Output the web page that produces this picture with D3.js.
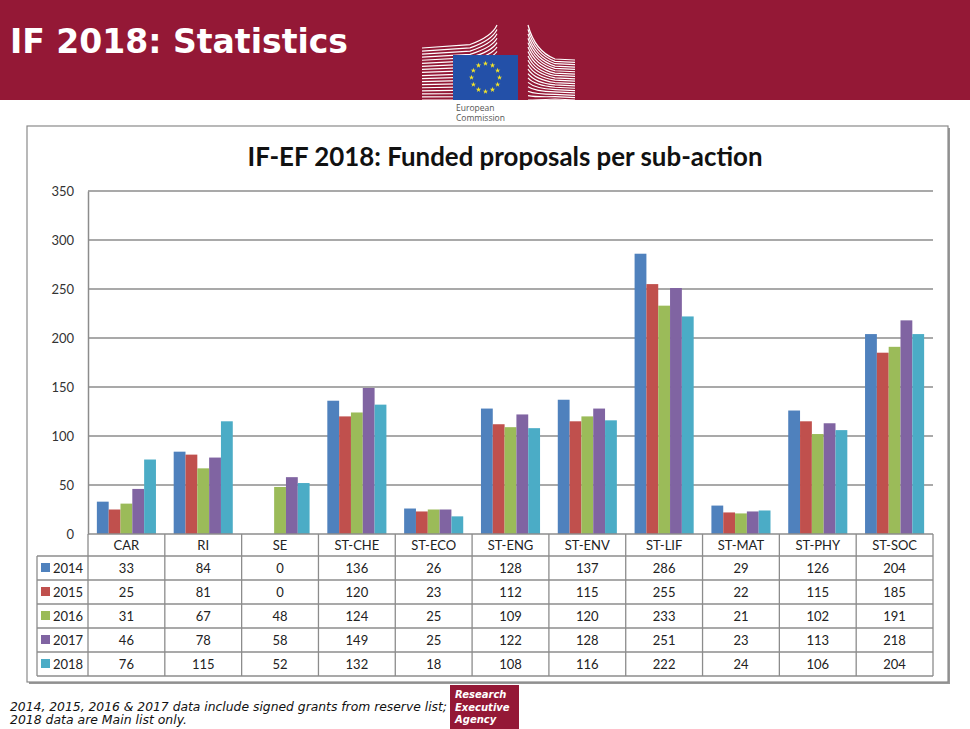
<!DOCTYPE html>
<html><head><meta charset="utf-8">
<script src="https://cdn.jsdelivr.net/npm/d3@7"></script>
<style>html,body{margin:0;padding:0;background:#fff;overflow:hidden}</style>
</head><body>
<svg id="c" width="970" height="729"></svg>
<script>
const categories = ["CAR","RI","SE","ST-CHE","ST-ECO","ST-ENG","ST-ENV","ST-LIF","ST-MAT","ST-PHY","ST-SOC"];
const years = ["2014","2015","2016","2017","2018"];
const v2014 = [33,84,0,136,26,128,137,286,29,126,204];
const v2015 = [25,81,0,120,23,112,115,255,22,115,185];
const v2016 = [31,67,48,124,25,109,120,233,21,102,191];
const v2017 = [46,78,58,149,25,122,128,251,23,113,218];
const v2018 = [76,115,52,132,18,108,116,222,24,106,204];
const yTicks = [0,50,100,150,200,250,300,350];
const colors = ["#4F81BD","#C0504D","#9BBB59","#8064A2","#4BACC6"];
const series = [v2014,v2015,v2016,v2017,v2018];

(function(){
const svg = d3.select("#c");
const red = "#941836";

// header band
svg.append("rect").attr("x",0).attr("y",0).attr("width",970).attr("height",100).attr("fill",red);
svg.append("text").attr("x",10).attr("y",53).attr("fill","#fff")
  .attr("font-family","DejaVu Sans").attr("font-weight","bold").attr("font-size",33)
  .attr("textLength",338).attr("lengthAdjust","spacingAndGlyphs")
  .text("IF 2018: Statistics");

// EC logo
const logo = svg.append("g");
for (let i=0;i<18;i++){
  const t=i/17;
  const yl=48+t*52, yr=25+t*75;
  logo.append("path").attr("d",`M422,${yl} L${470},${yl+(yr-yl)*0.15} Q${492},${yl+(yr-yl)*0.5} 497,${yr}`)
    .attr("fill","none").attr("stroke","#fff").attr("stroke-width",1.2);
  const yl2=25+t*75, yr2=60+t*40;
  logo.append("path").attr("d",`M528,${yl2} Q${535},${yl2+(yr2-yl2)*0.75} ${555},${yr2-1} L575,${yr2}`)
    .attr("fill","none").attr("stroke","#fff").attr("stroke-width",1.2);
}
logo.append("rect").attr("x",453).attr("y",55).attr("width",65).attr("height",45).attr("fill","#2350a8");
const star = d3.symbol().type(d3.symbolStar).size(9);
for (let k=0;k<12;k++){
  const a=k*Math.PI/6;
  logo.append("path").attr("d",star()).attr("fill","#f5e628")
    .attr("transform",`translate(${485.5+14*Math.sin(a)},${77.5-14*Math.cos(a)})`);
}
logo.append("text").attr("x",456).attr("y",111).attr("font-family","Open Sans").attr("font-size",8.5).attr("fill","#555").text("European");
logo.append("text").attr("x",456).attr("y",121).attr("font-family","Open Sans").attr("font-size",8.5).attr("fill","#555").text("Commission");

// chart box
svg.append("rect").attr("x",29).attr("y",128).attr("width",921).attr("height",556).attr("fill","#999");
svg.append("rect").attr("x",27).attr("y",126).attr("width",921).attr("height",556).attr("fill","#fff").attr("stroke","#8a8a8a").attr("stroke-width",1.2);

svg.append("text").attr("x",505).attr("y",166).attr("text-anchor","middle")
  .attr("font-family","Lato").attr("font-weight","bold").attr("font-size",26).attr("fill","#111")
  .attr("textLength",515).attr("lengthAdjust","spacingAndGlyphs")
  .text("IF-EF 2018: Funded proposals per sub-action");

// scales
const pL=88, pR=933, pT=191, pB=534;
const x0 = d3.scaleBand().domain(categories).range([pL,pR]).padding(0);
const x1 = d3.scaleBand().domain(years).range([0,x0.bandwidth()]).paddingInner(0).paddingOuter(0.75);
const y = d3.scaleLinear().domain([0,350]).range([pB,pT]);

// gridlines
svg.append("g").selectAll("line").data(yTicks.filter(d=>d>0)).join("line")
  .attr("x1",pL).attr("x2",pR).attr("y1",d=>y(d)).attr("y2",d=>y(d))
  .attr("stroke","#8c8c8c").attr("stroke-width",1.5);

// y axis
const yAxis = svg.append("g").attr("transform",`translate(${pL},0)`)
  .call(d3.axisLeft(y).tickValues(yTicks).tickSize(0).tickPadding(14));
yAxis.select(".domain").attr("stroke","#8c8c8c").attr("stroke-width",1.5);
yAxis.selectAll("text").attr("font-family","Lato").attr("font-size",13).attr("fill","#333");

// bars
const gs = svg.append("g").selectAll("g").data(categories).join("g")
  .attr("transform",d=>`translate(${x0(d)},0)`);
gs.selectAll("rect").data((c,ci)=>years.map((yr,si)=>({yr,si,v:series[si][ci]}))).join("rect")
  .attr("x",d=>x1(d.yr)).attr("width",x1.bandwidth())
  .attr("y",d=>y(d.v)).attr("height",d=>y(0)-y(d.v))
  .attr("fill",d=>colors[d.si]);

// table
const rowTop=534, hdrH=22, rowH=24, legL=37;
const tbl = svg.append("g");
const gridC="#8c8c8c";
tbl.append("line").attr("x1",pL).attr("x2",pR).attr("y1",rowTop).attr("y2",rowTop).attr("stroke",gridC).attr("stroke-width",1.5);
for (let r=0;r<=years.length;r++){
  const yy=rowTop+hdrH+r*rowH;
  tbl.append("line").attr("x1",legL).attr("x2",pR).attr("y1",yy).attr("y2",yy).attr("stroke",gridC).attr("stroke-width",1.3);
}
const tblBottom=rowTop+hdrH+years.length*rowH;
categories.forEach(c=>{
  tbl.append("line").attr("x1",x0(c)).attr("x2",x0(c)).attr("y1",rowTop).attr("y2",tblBottom).attr("stroke",gridC).attr("stroke-width",1.3);
});
tbl.append("line").attr("x1",pR).attr("x2",pR).attr("y1",rowTop).attr("y2",tblBottom).attr("stroke",gridC).attr("stroke-width",1.3);
tbl.append("line").attr("x1",legL).attr("x2",legL).attr("y1",rowTop+hdrH).attr("y2",tblBottom).attr("stroke",gridC).attr("stroke-width",1.3);
categories.forEach(c=>{
  tbl.append("text").attr("x",x0(c)+x0.bandwidth()/2).attr("y",rowTop+hdrH/2+5).attr("text-anchor","middle")
    .attr("font-family","Lato").attr("font-size",13).attr("fill","#222").text(c);
});
years.forEach((yr,si)=>{
  const cy=rowTop+hdrH+si*rowH+rowH/2;
  tbl.append("rect").attr("x",41).attr("y",cy-5).attr("width",9).attr("height",9).attr("fill",colors[si]);
  tbl.append("text").attr("x",53).attr("y",cy+5).attr("font-family","Lato").attr("font-size",13).attr("fill","#222").text(yr);
  categories.forEach((c,ci)=>{
    tbl.append("text").attr("x",x0(c)+x0.bandwidth()/2).attr("y",cy+5).attr("text-anchor","middle")
      .attr("font-family","Lato").attr("font-size",13).attr("fill","#222").text(series[si][ci]);
  });
});

// footer
svg.append("text").attr("x",10).attr("y",711).attr("font-family","DejaVu Sans").attr("font-style","italic").attr("font-size",12).attr("fill","#111")
  .attr("textLength",437).attr("lengthAdjust","spacingAndGlyphs")
  .text("2014, 2015, 2016 & 2017 data include signed grants from reserve list;");
svg.append("text").attr("x",10).attr("y",724).attr("font-family","DejaVu Sans").attr("font-style","italic").attr("font-size",12).attr("fill","#111")
  .attr("textLength",177).attr("lengthAdjust","spacingAndGlyphs")
  .text("2018 data are Main list only.");
svg.append("rect").attr("x",450).attr("y",685).attr("width",69).attr("height",44).attr("fill",red);
["Research","Executive","Agency"].forEach((t,i)=>{
  svg.append("text").attr("x",455).attr("y",698+i*12.5).attr("font-family","DejaVu Sans").attr("font-style","italic").attr("font-weight","bold")
    .attr("font-size",10).attr("fill","#fff").text(t);
});
})();
</script>
</body></html>
